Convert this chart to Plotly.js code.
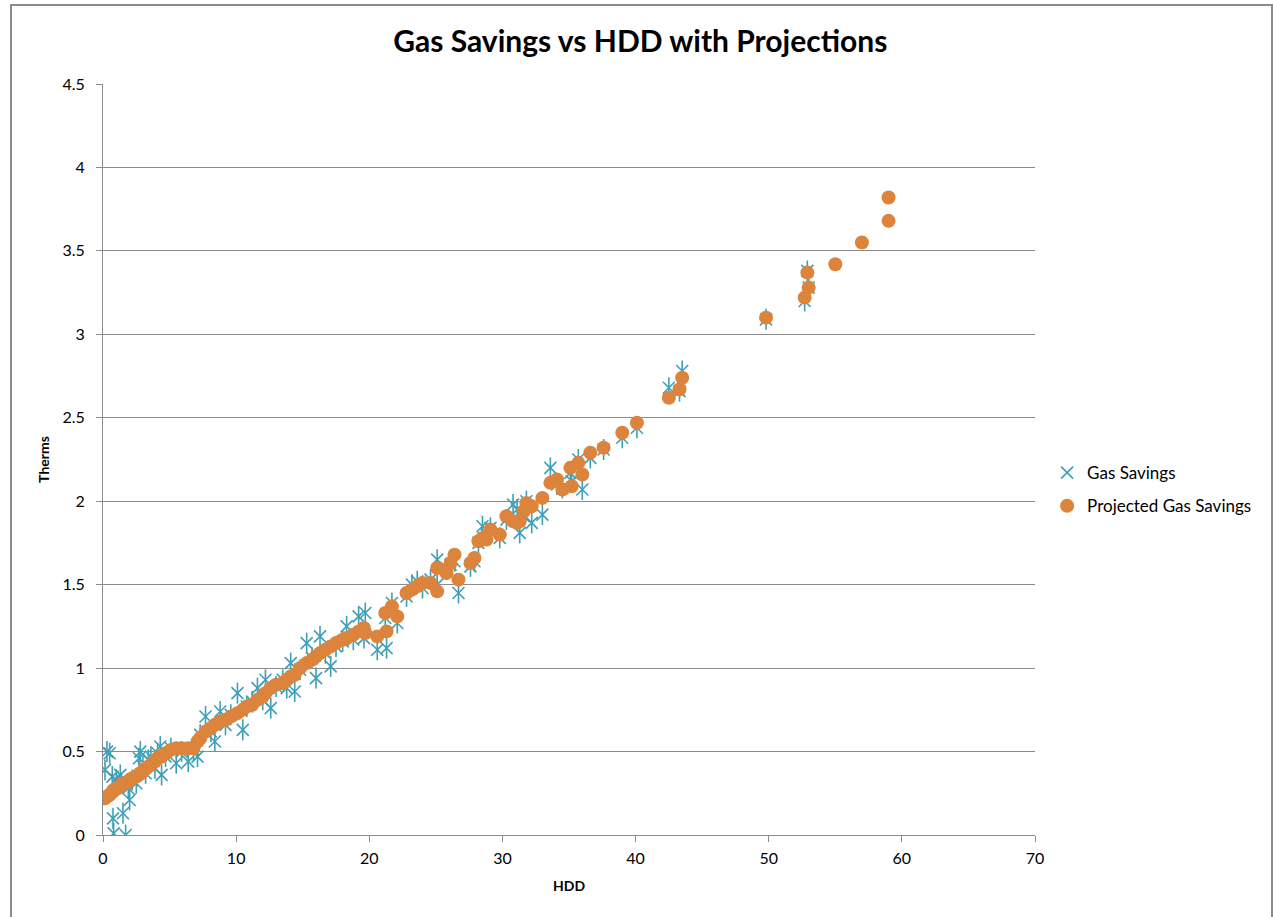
<!DOCTYPE html>
<html>
<head>
<meta charset="utf-8">
<script src="https://cdn.plot.ly/plotly-3.0.1.min.js"></script>
<style>
  html, body { margin: 0; padding: 0; background: #ffffff; }
  #chart { width: 1273px; height: 917px; position: absolute; left: 0; top: 0; }
  #frame { position: absolute; left: 10px; top: 4px; width: 1259px; height: 930px;
           border: 2px solid #8c8c8c; border-bottom: none; pointer-events: none; }
</style>
</head>
<body>
<div id="chart"></div>
<div id="frame"></div>
<script>
// HDD values (x)
const hdd = [
  0.15, 0.3, 0.5, 0.7, 0.75, 0.8, 1.0, 1.1, 1.3, 1.5, 1.7, 1.9, 2.0, 2.2, 2.5, 2.7, 2.8, 3.0, 3.2, 3.4,
  3.6, 3.9, 4.1, 4.3, 4.4, 4.7, 5.1, 5.5, 5.9, 6.4, 6.8, 7.1, 7.3, 7.7, 8.1, 8.4, 8.8, 9.2, 9.6, 10.1,
  10.5, 10.8, 11.2, 11.6, 12.0, 12.2, 12.6, 13.0, 13.5, 13.8, 14.1, 14.4, 14.8, 15.3, 15.7, 16.0, 16.3, 16.7, 17.1, 17.5,
  18.0, 18.3, 18.8, 19.2, 19.6, 19.7, 20.6, 21.3, 21.2, 21.7, 22.1, 22.8, 23.2, 23.6, 24.0, 24.6, 25.1, 25.1, 25.8, 26.1,
  26.4, 26.7, 27.6, 27.9, 28.2, 28.5, 28.8, 29.1, 29.8, 30.3, 30.8, 31.1, 31.3, 31.6, 31.8, 32.2, 33.0, 33.6, 34.1, 34.5,
  35.1, 35.2, 35.7, 36.0, 36.6, 37.6, 39.0, 40.1, 42.5, 43.3, 43.5, 49.8, 52.7, 52.9, 53.0, 55.0, 57.0, 59.0, 59.0
];
// Measured gas savings (therms)
const gasSavings = [
  0.39, 0.50, 0.49, 0.35, 0.10, 0.01, 0.33, 0.30, 0.36, 0.13, 0.00, 0.28, 0.21, 0.33, 0.31, 0.46, 0.50, 0.41, 0.37, 0.45,
  0.47, 0.40, 0.49, 0.53, 0.36, 0.47, 0.52, 0.43, 0.50, 0.44, 0.51, 0.47, 0.60, 0.71, 0.62, 0.56, 0.74, 0.66, 0.72, 0.85,
  0.63, 0.77, 0.80, 0.88, 0.81, 0.93, 0.76, 0.89, 0.93, 0.88, 1.03, 0.86, 0.99, 1.15, 1.06, 0.94, 1.19, 1.09, 1.01, 1.13,
  1.16, 1.25, 1.17, 1.31, 1.18, 1.33, 1.11, 1.12, 1.30, 1.39, 1.27, 1.43, 1.50, 1.52, 1.48, 1.53, 1.50, 1.65, 1.60, 1.62,
  1.64, 1.45, 1.61, 1.64, 1.75, 1.85, 1.80, 1.84, 1.78, 1.89, 1.98, 1.95, 1.81, 1.91, 2.00, 1.87, 1.92, 2.20, 2.10, 2.08,
  2.17, 2.12, 2.25, 2.07, 2.26, 2.31, 2.38, 2.44, 2.68, 2.66, 2.78, 3.09, 3.20, 3.38, 3.28, null, null, null, null
];
// Projected gas savings (therms)
const projected = [
  0.22, 0.23, 0.24, 0.26, 0.26, 0.27, 0.28, 0.28, 0.29, 0.31, 0.31, 0.32, 0.33, 0.34, 0.35, 0.36, 0.37, 0.38, 0.40, 0.41,
  0.42, 0.44, 0.46, 0.47, 0.47, 0.49, 0.51, 0.52, 0.52, 0.52, 0.52, 0.56, 0.58, 0.62, 0.64, 0.66, 0.68, 0.69, 0.71, 0.73,
  0.75, 0.77, 0.78, 0.81, 0.83, 0.85, 0.88, 0.90, 0.91, 0.93, 0.95, 0.96, 1.00, 1.03, 1.05, 1.07, 1.09, 1.11, 1.13, 1.15,
  1.17, 1.18, 1.20, 1.22, 1.24, 1.21, 1.19, 1.22, 1.33, 1.37, 1.31, 1.45, 1.47, 1.49, 1.51, 1.51, 1.46, 1.60, 1.57, 1.63,
  1.68, 1.53, 1.63, 1.66, 1.76, 1.78, 1.77, 1.83, 1.80, 1.91, 1.88, 1.87, 1.88, 1.94, 1.99, 1.97, 2.02, 2.11, 2.13, 2.07,
  2.20, 2.09, 2.23, 2.16, 2.29, 2.32, 2.41, 2.47, 2.62, 2.67, 2.74, 3.10, 3.22, 3.37, 3.28, 3.42, 3.55, 3.68, 3.82
];
const xTicks = [0, 10, 20, 30, 40, 50, 60, 70];
const yTicks = [0, 0.5, 1, 1.5, 2, 2.5, 3, 3.5, 4, 4.5];

const teal = '#3e9fb8';
const orange = '#dc843c';
const font = 'Lato, "Open Sans", sans-serif';

const traces = [
  {
    x: hdd, y: gasSavings, type: 'scatter', mode: 'markers', name: 'Gas Savings',
    legendgroup: 'g',
    marker: { symbol: 'x-thin-open', size: 12, color: teal, line: { color: teal, width: 1.6 } }
  },
  {
    x: hdd, y: gasSavings, type: 'scatter', mode: 'markers', name: 'Gas Savings',
    legendgroup: 'g', showlegend: false,
    marker: { symbol: 'line-ns-open', size: 15, color: teal, line: { color: teal, width: 1.6 } }
  },
  {
    x: hdd, y: projected, type: 'scatter', mode: 'markers', name: 'Projected Gas Savings',
    marker: { symbol: 'circle', size: 14, color: orange }
  }
];

const layout = {
  width: 1273, height: 917,
  paper_bgcolor: '#ffffff', plot_bgcolor: '#ffffff',
  margin: { l: 103, r: 238, t: 84, b: 82 },
  font: { family: font, size: 16, color: '#000000' },
  title: {
    text: '<b>Gas Savings vs HDD with Projections</b>',
    font: { family: font, size: 30, color: '#000000' },
    x: 0.503, xref: 'container', xanchor: 'center', y: 0.955, yanchor: 'middle'
  },
  xaxis: {
    range: [0, 70], tickvals: xTicks, ticktext: xTicks.map(String),
    showgrid: false, zeroline: false,
    showline: true, linecolor: '#8c8c8c', linewidth: 1,
    ticks: 'outside', ticklen: 6, tickcolor: '#8c8c8c',
    ticklabelstandoff: 3,
    tickfont: { family: font, size: 16 },
    title: { text: '<b>HDD</b>', font: { family: font, size: 14 }, standoff: 14 }
  },
  yaxis: {
    range: [0, 4.5], tickvals: yTicks, ticktext: yTicks.map(String),
    showgrid: true, gridcolor: '#8c8c8c', gridwidth: 1, zeroline: false,
    showline: true, linecolor: '#8c8c8c', linewidth: 1,
    ticks: 'outside', ticklen: 6, tickcolor: '#8c8c8c',
    ticklabelstandoff: 8,
    tickfont: { family: font, size: 16 },
    title: { text: '<b>Therms</b>', font: { family: font, size: 14 }, standoff: 9 }
  },
  legend: {
    x: 1.013, xanchor: 'left', y: 0.46, yanchor: 'middle',
    font: { family: font, size: 17 }, bgcolor: 'rgba(0,0,0,0)',
    itemwidth: 30, tracegroupgap: 8
  },
  showlegend: true
};

Plotly.newPlot('chart', traces, layout, { staticPlot: true, displayModeBar: false });
</script>
</body>
</html>
